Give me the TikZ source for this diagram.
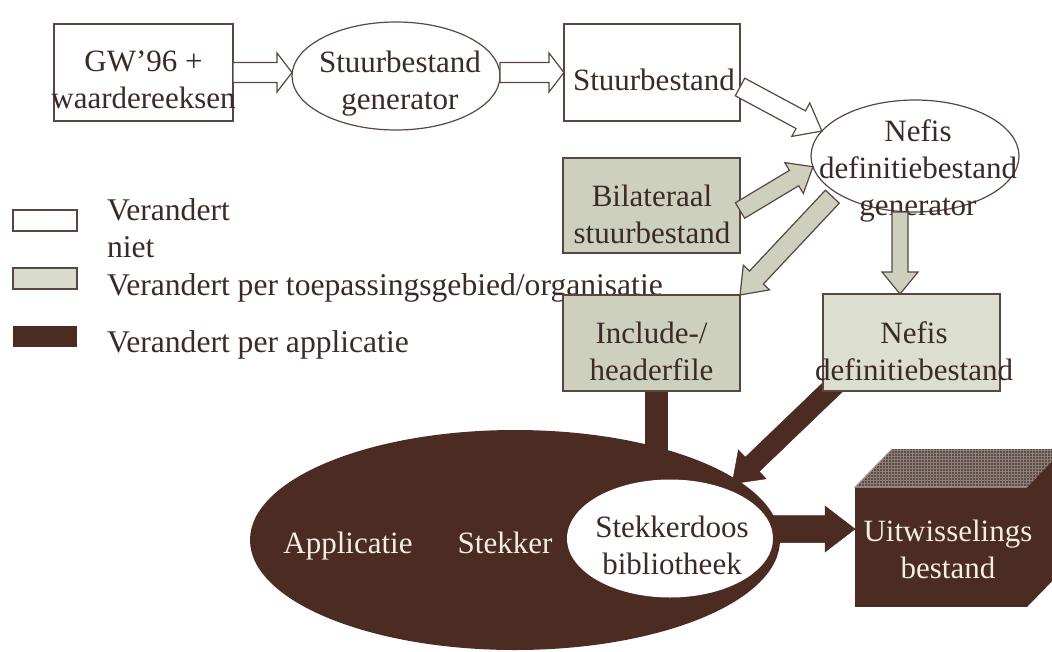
\documentclass[tikz,border=0pt]{standalone}
\usepackage{fontspec}
\setmainfont{Liberation Serif}
\usetikzlibrary{calc,shapes.geometric,backgrounds,patterns}

\definecolor{ink}{HTML}{3B2A26}
\definecolor{rim}{HTML}{5A4540}
\definecolor{sage}{HTML}{CDD0BC}
\definecolor{umber}{HTML}{4B2B22}
\definecolor{umbertop}{HTML}{5E4B45}
\definecolor{umbermesh}{HTML}{8C7F7A}
\definecolor{cream}{HTML}{F2EEE4}

% block arrow: style, from, to, shaft half width, head half width, head length
\newcommand\blockarrow[6]{%
  \coordinate (ba-n) at ($(#3)!#6!(#2)$);
  \filldraw[#1] ($(#2)!#4!90:(#3)$) -- ($(ba-n)!#4!90:(#3)$)
    -- ($(ba-n)!#5!90:(#3)$) -- (#3) -- ($(ba-n)!#5!-90:(#3)$)
    -- ($(ba-n)!#4!-90:(#3)$) -- ($(#2)!#4!-90:(#3)$) -- cycle;}

\begin{document}
\begin{tikzpicture}[x=1pt,y=-1pt,
  every node/.style={inner sep=0pt,outer sep=0pt},
  txt/.style={font=\fontsize{31}{37}\selectfont, text=ink, align=center},
  lgdtxt/.style={font=\fontsize{31.6}{37}\selectfont, text=ink, anchor=base west},
  revtxt/.style={txt, text=cream},
  plainbox/.style={rectangle, draw=rim, line width=1.4pt, fill=white},
  sagebox/.style={plainbox, fill=sage},
  darkbox/.style={rectangle, fill=umber},
  oval/.style={ellipse, draw=rim, line width=1.2pt, fill=white},
  hollow/.style={draw=rim, line width=1.2pt, fill=white, line join=miter},
  sagearrow/.style={draw=rim, line width=1.2pt, fill=sage, line join=miter},
  darkarrow/.style={draw=umber, line width=0.5pt, fill=umber},
]
\useasboundingbox (0,0) rectangle (1052,651);
\clip (0,0) rectangle (1052,651);

% legend
\node[plainbox, line width=1.2pt, minimum width=64pt, minimum height=21pt] (lgw) at (45,220.5) {};
\node[sagebox, fill=sage!75!white, line width=1.2pt, minimum width=64pt, minimum height=21pt] (lgs) at (45,278.5) {};
\node[darkbox, minimum width=64pt, minimum height=21pt] (lgd) at (45,336.5) {};
\node[lgdtxt] (lgwa) at (107,220) {Verandert};
\node[lgdtxt] (lgwb) at (107,257) {niet};
\node[lgdtxt] (lgst) at (107,295) {Verandert per toepassingsgebied/organisatie};
\node[lgdtxt] (lgdt) at (107,352) {Verandert per applicatie};

% top row and generator chain
\node[plainbox, minimum width=179pt, minimum height=97pt] (gw) at (143.5,72.5) {};
\node[oval, minimum width=208pt, minimum height=108pt] (sgen) at (396,76) {};
\node[plainbox, minimum width=176pt, minimum height=97pt] (stuur) at (652,72.5) {};
\node[oval, minimum width=208pt, minimum height=112pt] (ngen) at (915,156) {};
\node[sagebox, minimum width=177pt, minimum height=95pt] (bil) at (651.5,205.5) {};
\node[sagebox, minimum width=177pt, minimum height=96pt] (inc) at (651.5,343) {};
\node[sagebox, fill=sage!70!white, minimum width=177pt, minimum height=97pt] (ndef) at (911.5,342.5) {};

% application with plug and socket library
\node[ellipse, fill=umber, minimum width=530pt, minimum height=220pt] (app) at (515,540) {};
\node[ellipse, fill=white, minimum width=206pt, minimum height=118pt] (lib) at (670,538.5) {};

% exchange file as a block
\node[darkbox, minimum width=172pt, minimum height=120pt] (cube) at (941,547) {};
\fill[umber] (cube.north east) -- ++(37,-38) -- ++(0,120) -- (cube.south east) -- cycle;
\fill[umbertop] (cube.north west) -- ++(37,-38) -- ++(172,0) -- (cube.north east) -- cycle;
\fill[pattern=grid, pattern color=umbermesh]
  (cube.north west) -- ++(37,-38) -- ++(172,0) -- (cube.north east) -- cycle;
\draw[umbermesh!70!white, line width=1pt]
  (cube.north east) -- (cube.north west) -- ++(37,-38);

% labels
\node[txt] (gwt) at (143.5,82.1) {\strut GW’96 +\\\strut waardereeksen};
\node[txt] (sgent) at (400,83.1) {\strut Stuurbestand\\\strut generator};
\node[txt] (stuurt) at (654,82.6) {\strut Stuurbestand};
\node[txt] (ngent) at (918,170.6) {\strut Nefis\\\strut definitiebestand\\\strut generator};
\node[txt] (bilt) at (652,217.6) {\strut Bilateraal\\\strut stuurbestand};
\node[txt] (inct) at (651.5,354.1) {\strut Include-/\\\strut headerfile};
\node[txt] (ndeft) at (914,354.1) {\strut Nefis\\\strut definitiebestand};
\node[revtxt, anchor=base] (appt) at (348,553) {Applicatie};
\node[revtxt, anchor=base] (plugt) at (505,553) {Stekker};
\node[txt] (libt) at (672,548.1) {\strut Stekkerdoos\\\strut bibliotheek};
\node[revtxt] (cubet) at (948,552.6) {\strut Uitwisselings\\\strut bestand};

% connectors
\coordinate (a1s) at (gw.east);
\coordinate (a1e) at (gw.east -| sgen.west);
\blockarrow{hollow}{a1s}{a1e}{10pt}{19.5pt}{15pt}
\coordinate (a2e) at (stuur.west);
\coordinate (a2s) at (stuur.west -| sgen.east);
\blockarrow{hollow}{a2s}{a2e}{10pt}{19.5pt}{15pt}
\coordinate (a3s) at ($(stuur.east)+(0,14.5)$);
\coordinate (a3e) at (ngen.165);
\blockarrow{hollow}{a3s}{a3e}{10pt}{19pt}{24pt}
\coordinate (a4s) at ($(bil.east)+(0,5)$);
\coordinate (a4e) at (ngen.186);
\blockarrow{sagearrow}{a4s}{a4e}{9pt}{18pt}{22pt}
\coordinate (a5s) at ($(ngen.205)+(-4,4)$);
\coordinate (a5e) at (inc.north east);
\blockarrow{sagearrow}{a5s}{a5e}{9.5pt}{18pt}{24pt}
\coordinate (a6s) at ($(ngen.south)+(-15,0)$);
\coordinate (a6e) at ($(ndef.north)+(-11.5,0)$);
\blockarrow{sagearrow}{a6s}{a6e}{8pt}{18pt}{22pt}
\coordinate (a8s) at ($(lib.east)+(0,-9.5)$);
\coordinate (a8e) at (a8s -| cube.west);
\blockarrow{darkarrow}{a8s}{a8e}{13.5pt}{23pt}{30pt}

\begin{pgfonlayer}{background}
  \draw[umber, line width=23pt] ($(inc.south)+(5,0)$) -- ($(inc.south)+(5,70)$);
  \coordinate (a7s) at ($(ndef.south west)+(14,-8)$);
  \coordinate (a7e) at ($(lib.40)+(4,-6)$);
  \blockarrow{darkarrow}{a7s}{a7e}{10pt}{20pt}{28pt}
\end{pgfonlayer}
\end{tikzpicture}
\end{document}
